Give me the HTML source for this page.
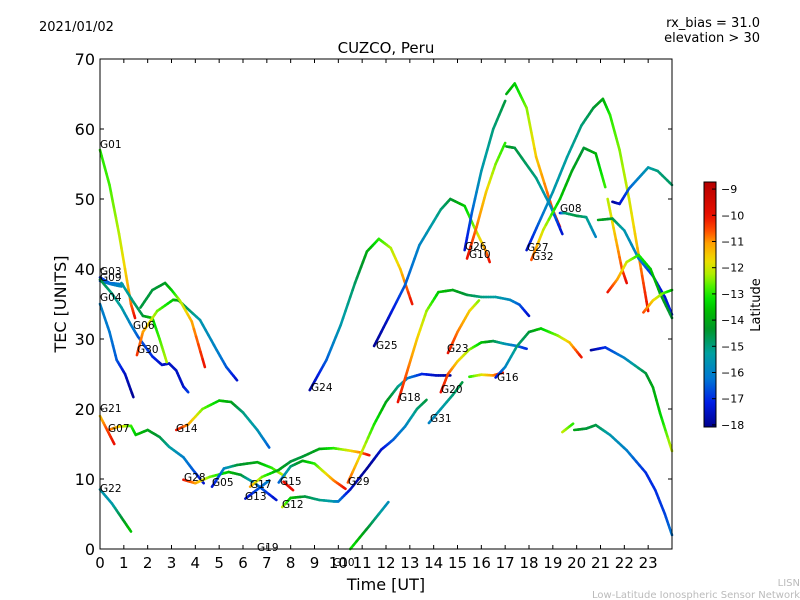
<!DOCTYPE html>
<html><head><meta charset="utf-8"><style>
body{margin:0;background:#fff;}
svg{display:block;font-family:"DejaVu Sans","Liberation Sans",sans-serif;}
</style></head><body>
<svg id="chart" width="800" height="600" viewBox="0 0 800 600">
<rect width="800" height="600" fill="#fff"/>
<text x="39" y="31" font-size="13">2021/01/02</text>
<text x="760" y="27" font-size="13" text-anchor="end">rx_bias = 31.0</text>
<text x="760" y="42" font-size="13" text-anchor="end">elevation &gt; 30</text>
<text x="386" y="53" font-size="15" text-anchor="middle">CUZCO, Peru</text>
<text x="386" y="590" font-size="16" text-anchor="middle">Time [UT]</text>
<text transform="translate(66,304) rotate(-90)" font-size="16" text-anchor="middle">TEC [UNITS]</text>
<text x="800" y="586" font-size="10" fill="#bbb" text-anchor="end">LISN</text>
<text x="800" y="598" font-size="10" fill="#bbb" text-anchor="end">Low-Latitude Ionospheric Sensor Network</text>
<g id="marks"></g>
<g id="axes"></g>
<g id="labels" font-size="10.5" fill="#000">
<text x="100" y="148">G01</text>
<text x="100" y="275">G03</text>
<text x="100" y="281">G09</text>
<text x="100" y="301">G04</text>
<text x="133" y="329">G06</text>
<text x="137" y="353">G30</text>
<text x="100" y="412">G21</text>
<text x="108" y="432">G07</text>
<text x="176" y="432">G14</text>
<text x="100" y="492">G22</text>
<text x="184" y="481">G28</text>
<text x="212" y="486">G05</text>
<text x="250" y="488">G17</text>
<text x="245" y="500">G13</text>
<text x="280" y="485">G15</text>
<text x="282" y="508">G12</text>
<text x="257" y="551">G19</text>
<text x="333" y="566">G10</text>
<text x="348" y="485">G29</text>
<text x="311" y="391">G24</text>
<text x="376" y="349">G25</text>
<text x="399" y="401">G18</text>
<text x="430" y="422">G31</text>
<text x="441" y="393">G20</text>
<text x="447" y="352">G23</text>
<text x="497" y="381">G16</text>
<text x="465" y="250">G26</text>
<text x="469" y="258">G10</text>
<text x="527" y="251">G27</text>
<text x="532" y="260">G32</text>
<text x="560" y="212">G08</text>
</g>
<defs><linearGradient id="jetgrad" x1="0" y1="1" x2="0" y2="0"></linearGradient></defs>
<rect x="704" y="182" width="12" height="245" fill="url(#jetgrad)" stroke="#000" stroke-width="1"/>
<g id="cbticks" font-size="11"></g>
<text transform="translate(760,305) rotate(-90)" font-size="13" text-anchor="middle">Latitude</text>
</svg>
<script>
// ---- data: each arc = times (UT hours), TEC values, latitude ----
const t_G01=[0,0.4,0.8,1.1,1.3,1.47], v_G01=[57,52,45,39,35,33], lat_G01=[-13,-12.8,-12.2,-11.5,-10.8,-10];
const t_G03=[0,0.4,0.95], v_G03=[38.8,38,37.8], lat_G03=[-17,-16.5,-16];
const t_G09=[0,0.5,0.9], v_G09=[38.3,37.8,37.5], lat_G09=[-16.5,-16.2,-15.8];
const t_G04=[0,0.5,0.9,1.3,1.6,2.2,2.6,2.9,3.2,3.5,3.7], v_G04=[38.5,36.5,34.5,32,30.3,27.5,26.3,26.5,25.5,23.2,22.4], lat_G04=[-14.5,-15,-15.3,-16,-16.5,-17,-17.5,-17.5,-17.5,-17.5,-16.8];
const t_G04b=[0,0.4,0.7,1.05,1.4], v_G04b=[35,31,27,25,21.7], lat_G04b=[-16,-16.2,-16.5,-17.5,-18];
const t_G06=[0.9,1.4,1.8,2.2,2.5,2.8], v_G06=[38,35.3,33.3,33,30,26.7], lat_G06=[-15.5,-15,-14.5,-13.5,-12.8,-12.2];
const t_G30=[1.55,1.8,2.4,3.07,3.3,4.2,4.9,5.3,5.75], v_G30=[27.7,31,34,35.6,35.5,32.7,28.4,26,24.1], lat_G30=[-10.3,-11,-12.5,-13.5,-14.2,-15.5,-16,-16.5,-17.5];
const t_G02=[1.7,2.2,2.73,3.0,3.35,3.85,4.4], v_G02=[34.5,37,38,37,35.5,32.5,26], lat_G02=[-14.5,-14.5,-14.3,-13.5,-12.3,-11.2,-10];
const t_G21=[0,0.3,0.6], v_G21=[19,17,15], lat_G21=[-11.5,-10.5,-10];
const t_G07=[0.35,0.8,1.3,1.5,2.0,2.5,2.9,3.5,3.9,4.35], v_G07=[17,17.5,17.6,16.3,17,16,14.6,13.1,11.3,9.4], lat_G07=[-10.5,-11.5,-12.8,-13.5,-14,-14.5,-15.2,-16,-16.5,-17.5];
const t_G14=[3.2,3.7,4.3,5.0,5.5,6.0,6.6,7.1], v_G14=[17,17.8,20,21.2,21,19.5,17,14.5], lat_G14=[-10,-11,-12.5,-13.5,-14,-15,-15.5,-16.5];
const t_G22=[0,0.5,0.9,1.3], v_G22=[8.5,6.5,4.5,2.5], lat_G22=[-15.5,-15.5,-14.5,-13.5];
const t_G28=[3.5,4.0,4.6,5.4,5.9,6.5,7.4], v_G28=[9.9,9.4,10.3,11,10.6,9.4,7], lat_G28=[-10,-11,-12.5,-13.5,-14.3,-16,-17.5];
const t_G05=[4.7,5.2,5.75,6.6,7.2,7.75], v_G05=[8.9,11.5,12,12.4,11.6,10.4], lat_G05=[-17.5,-16,-14.5,-14,-13,-12];
const t_G17=[6.3,6.8,7.5,8.0,8.5,9.2,9.8,10.4,10.9,11.3], v_G17=[8.9,10.3,11.3,12.5,13.2,14.3,14.4,14.1,13.8,13.4], lat_G17=[-11,-12.5,-14,-14.5,-14.5,-14,-13,-12,-11,-10];
const t_G13=[6.1,6.6,7.1], v_G13=[7.2,8.5,9.8], lat_G13=[-17.5,-16.7,-16];
const t_G15a=[7.5,8.0,8.5,9.0,9.4,9.8,10.3], v_G15a=[9.5,11.8,12.6,12.2,11,9.8,8.6], lat_G15a=[-16.5,-15,-14,-13,-12,-11,-10];
const t_G15=[7.7,8.1], v_G15=[9.6,8.4], lat_G15=[-10,-10];
const t_G12=[7.65,8.0,8.6,9.2,9.8,10.0,10.5,11.2,11.8,12.3,12.8,13.3,13.7], v_G12=[6,7.3,7.5,7,6.8,6.8,8.5,11.5,14.2,15.6,17.5,20,21.3], lat_G12=[-12,-13.5,-14.5,-15,-15.5,-16,-17.5,-18,-17.5,-16.5,-16,-15,-14.5];
const t_G19=[10.5,11.3,12.1], v_G19=[0,3.3,6.7], lat_G19=[-13,-14.5,-15.8];
const t_G29=[10.4,11.0,11.5,12.0,12.5,12.9,13.5,14.1,14.7], v_G29=[9.5,14,17.8,21,23.2,24.4,25,24.8,24.8], lat_G29=[-10.5,-12,-13,-14,-15,-16,-17,-17.5,-18];
const t_G18=[12.5,12.9,13.3,13.7,14.2,14.8,15.4,16.0,16.6,17.2,17.6,18.0], v_G18=[21,25.5,30,34,36.7,37,36.3,36,36,35.6,34.9,33.3], lat_G18=[-10,-10.7,-11.5,-12.3,-13.5,-14,-14.5,-15,-15.3,-15.8,-16.5,-17.5];
const t_G24=[8.8,9.5,10.1,10.7,11.2,11.7,12.2,12.6,13.1], v_G24=[22.7,27,32,38,42.5,44.3,43,40,35], lat_G24=[-18,-16.5,-15.5,-14.8,-14,-13,-12.3,-11.5,-10];
const t_G25=[11.5,12.1,12.8,13.4,14.3,14.7,15.3,15.7,16.2,16.35], v_G25=[29,33,37.7,43.4,48.5,50,49,46,42.5,41], lat_G25=[-18,-17.5,-16.5,-16,-15,-14.5,-13.5,-12.5,-11,-10];
const t_G23=[14.6,15.0,15.5,15.9], v_G23=[28,31,34,35.5], lat_G23=[-10,-10.8,-11.5,-12.5];
const t_G20=[14.3,14.6,15.0,15.5,16.0,16.5,17.0,17.5,17.9], v_G20=[22.4,25,26.8,28.5,29.5,29.7,29.3,29,28.6], lat_G20=[-10,-10.5,-11.5,-12.3,-13.5,-14.5,-15.5,-16.3,-17];
const t_G31=[13.8,14.3,14.8,15.2], v_G31=[18,20,22,23.8], lat_G31=[-16,-15.5,-15,-14.5];
const t_G16a=[15.5,16.0,16.5,16.9], v_G16a=[24.6,24.9,24.8,25.2], lat_G16a=[-13,-12,-11,-10];
const t_G16=[16.6,17.0,17.5,18.0,18.5,19.2,19.7,20.2], v_G16=[24.5,26,29,31,31.5,30.5,29.5,27.4], lat_G16=[-17.5,-16,-15,-14.5,-13.5,-12.5,-11.5,-10];
const t_G26=[15.3,15.6,16.0,16.5,17.0], v_G26=[42.7,48,54,60,64], lat_G26=[-17.5,-16.5,-15.5,-15,-14.5];
const t_G26b=[17.05,17.4,17.9,18.3,19.0,19.3], v_G26b=[65,66.5,63,56,48.4,46], lat_G26b=[-14,-13.5,-12.5,-11.5,-10.5,-10];
const t_G10=[15.4,15.8,16.2,16.6,17.0], v_G10=[41.5,46,51,55,58], lat_G10=[-10,-10.8,-11.5,-12.5,-13];
const t_G11=[17.05,17.4,18.3,18.9,19.4], v_G11=[57.5,57.3,53,49,45], lat_G11=[-14,-14.5,-15,-15.8,-17.5];
const t_G27=[17.9,18.4,19.0,19.6,20.2,20.7,21.1,21.4,21.8,22.2,22.5,22.8,23.0], v_G27=[42.7,46.5,51,56,60.5,63,64.3,62,57,50,44,38,34], lat_G27=[-17.5,-16.5,-15.5,-15.3,-15,-14.5,-14,-13,-12.5,-12,-11.5,-10.5,-10];
const t_G32=[18.1,18.6,19.3,19.8,20.3,20.8,21.2], v_G32=[41.3,45.6,50,54,57.3,56.5,51.7], lat_G32=[-10.5,-12,-13.5,-14,-14.5,-13.8,-12.8];
const t_G32b=[21.3,21.6,21.9,22.1], v_G32b=[50,45,40,38], lat_G32b=[-12.2,-11.5,-10.5,-10];
const t_G08=[19.3,19.5,20.0,20.4,20.8], v_G08=[48,48,47.6,47.4,44.6], lat_G08=[-17.5,-15,-14.5,-15,-16];
const t_R1=[21.5,21.8,22.2,22.6,23.0,23.4,24], v_R1=[49.6,49.3,51.5,53,54.5,54,52], lat_R1=[-18,-17.5,-16.5,-16,-15.5,-15,-14.8];
const t_R2=[20.9,21.5,22.0,22.6,23.2,23.7,24], v_R2=[47,47.2,45.5,41.5,39,36,33.5], lat_R2=[-14,-14.5,-15.5,-16,-17,-17.5,-17];
const t_R3=[21.3,21.7,22.1,22.6,23.1,23.5,24], v_R3=[36.7,38.5,41,42,40,36.5,33], lat_R3=[-10,-11,-12,-13,-13.5,-14,-14.5];
const t_R4=[22.8,23.2,23.6,24], v_R4=[33.8,35.5,36.5,37], lat_R4=[-10.5,-11.5,-12.5,-13.5];
const t_R5=[20.6,21.2,22.0,22.9,23.2,23.5,24], v_R5=[28.4,28.8,27.3,25.1,23.1,19.4,14], lat_R5=[-18,-17,-16,-14.5,-14,-13.5,-12];
const t_R6=[19.4,19.85], v_R6=[16.7,17.9], lat_R6=[-12,-13];
const t_R7=[19.9,20.4,20.8,21.4,22.1,22.9,23.3,23.7,24], v_R7=[17,17.2,17.7,16.3,14.1,10.9,8.4,5,2], lat_R7=[-14,-14.5,-14.5,-15.5,-16,-17,-17,-16.8,-16.2];

const arcNames=["G01","G03","G09","G04","G04b","G06","G30","G02","G21","G07","G14","G22","G28","G05","G17","G13","G15a","G15","G12","G19","G29","G18","G24","G25","G23","G20","G31","G16a","G16","G26","G26b","G10","G11","G27","G32","G32b","G08","R1","R2","R3","R4","R5","R6","R7"];
const arcT=[t_G01,t_G03,t_G09,t_G04,t_G04b,t_G06,t_G30,t_G02,t_G21,t_G07,t_G14,t_G22,t_G28,t_G05,t_G17,t_G13,t_G15a,t_G15,t_G12,t_G19,t_G29,t_G18,t_G24,t_G25,t_G23,t_G20,t_G31,t_G16a,t_G16,t_G26,t_G26b,t_G10,t_G11,t_G27,t_G32,t_G32b,t_G08,t_R1,t_R2,t_R3,t_R4,t_R5,t_R6,t_R7];
const arcV=[v_G01,v_G03,v_G09,v_G04,v_G04b,v_G06,v_G30,v_G02,v_G21,v_G07,v_G14,v_G22,v_G28,v_G05,v_G17,v_G13,v_G15a,v_G15,v_G12,v_G19,v_G29,v_G18,v_G24,v_G25,v_G23,v_G20,v_G31,v_G16a,v_G16,v_G26,v_G26b,v_G10,v_G11,v_G27,v_G32,v_G32b,v_G08,v_R1,v_R2,v_R3,v_R4,v_R5,v_R6,v_R7];
const arcLat=[lat_G01,lat_G03,lat_G09,lat_G04,lat_G04b,lat_G06,lat_G30,lat_G02,lat_G21,lat_G07,lat_G14,lat_G22,lat_G28,lat_G05,lat_G17,lat_G13,lat_G15a,lat_G15,lat_G12,lat_G19,lat_G29,lat_G18,lat_G24,lat_G25,lat_G23,lat_G20,lat_G31,lat_G16a,lat_G16,lat_G26,lat_G26b,lat_G10,lat_G11,lat_G27,lat_G32,lat_G32b,lat_G08,lat_R1,lat_R2,lat_R3,lat_R4,lat_R5,lat_R6,lat_R7];
const xTicks=[0,1,2,3,4,5,6,7,8,9,10,11,12,13,14,15,16,17,18,19,20,21,22,23];
const yTicks=[0,10,20,30,40,50,60,70];
const cbTicks=[-9,-10,-11,-12,-13,-14,-15,-16,-17,-18];

const NS="http://www.w3.org/2000/svg";
const L=100,R=672,T=59,B=549, XMAX=24, YMAX=70, LMIN=-18.08, LMAX=-8.73;
const xs=h=>L+(h/XMAX)*(R-L);
const ys=v=>B-(v/YMAX)*(B-T);
const cl=a=>Math.max(0,Math.min(1,a));
const CM=[[0,0,0,140],[0.1,0,30,230],[0.2,0,120,210],[0.3,0,160,160],[0.4,0,150,40],[0.47,0,185,0],[0.52,0,225,0],[0.57,70,240,0],[0.62,170,240,0],[0.68,240,220,0],[0.75,255,160,0],[0.8,255,80,0],[0.86,235,15,0],[1,180,0,0]];
function jet(lat){const x=cl((lat-LMIN)/(LMAX-LMIN));
  let i=0;while(i<CM.length-2&&x>CM[i+1][0])i++;
  const a=CM[i],b=CM[i+1],f=cl((x-a[0])/(b[0]-a[0]));
  const c=k=>Math.round(a[k]+(b[k]-a[k])*f);
  return `rgb(${c(1)},${c(2)},${c(3)})`;}
function mk(tag,attrs,parent){const e=document.createElementNS(NS,tag);for(const k in attrs)e.setAttribute(k,attrs[k]);parent.appendChild(e);return e;}

const marks=document.getElementById('marks');
arcNames.forEach((nm,i)=>{
  const g=mk('g',{},marks);
  
  
  const t=arcT[i],v=arcV[i],la=arcLat[i];
  for(let k=0;k<t.length-1;k++){
    const n=6;
    for(let s=0;s<n;s++){
      const a=s/n,b=(s+1)/n,m=(a+b)/2;
      const ln=mk('line',{x1:xs(t[k]+(t[k+1]-t[k])*a),y1:ys(v[k]+(v[k+1]-v[k])*a),
        x2:xs(t[k]+(t[k+1]-t[k])*b),y2:ys(v[k]+(v[k+1]-v[k])*b),
        stroke:jet(la[k]+(la[k+1]-la[k])*m),'stroke-width':2.6,'stroke-linecap':'round'},g);
      
      
    }
  }
});

const axes=document.getElementById('axes');
const frame=mk('rect',{x:L,y:T,width:R-L,height:B-T,fill:'none',stroke:'#000','stroke-width':1},axes);


xTicks.forEach(h=>{
  const x=xs(h);
  mk('line',{x1:x,y1:B,x2:x,y2:B-4,stroke:'#000'},axes);
  mk('line',{x1:x,y1:T,x2:x,y2:T+4,stroke:'#000'},axes);
  const tx=mk('text',{x:x,y:B+19,'font-size':15,'text-anchor':'middle'},axes);
  tx.textContent=String(h);
  
  
});
yTicks.forEach(v=>{
  const y=ys(v);
  mk('line',{x1:L,y1:y,x2:L+4,y2:y,stroke:'#000'},axes);
  mk('line',{x1:R,y1:y,x2:R-4,y2:y,stroke:'#000'},axes);
  const tx=mk('text',{x:L-5,y:y+6,'font-size':16,'text-anchor':'end'},axes);
  tx.textContent=String(v);
  
  
});

const grad=document.getElementById('jetgrad');
for(let i=0;i<=40;i++){const f=i/40;mk('stop',{offset:f,'stop-color':jet(LMIN+f*(LMAX-LMIN))},grad);}
const cbg=document.getElementById('cbticks');
const cbY=lat=>427-((lat-LMIN)/(LMAX-LMIN))*245;
cbTicks.forEach(v=>{
  const y=cbY(v);
  mk('line',{x1:712,y1:y,x2:716,y2:y,stroke:'#000'},cbg);
  const tx=mk('text',{x:721,y:y+4},cbg);
  tx.textContent='\u2212'+Math.abs(v);
  
  
});
</script>
</body></html>
